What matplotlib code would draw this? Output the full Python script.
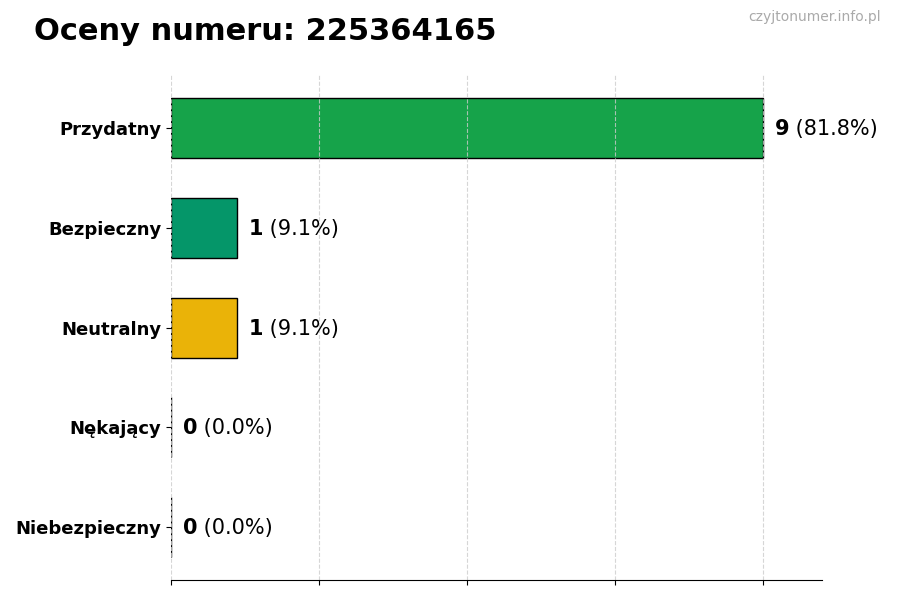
import numpy as np
import matplotlib.pyplot as plt

categories = ['Przydatny', 'Bezpieczny', 'Neutralny', 'Nękający', 'Niebezpieczny']
counts = [9, 1, 1, 0, 0]
colors = ['#16a34a', '#059669', '#eab308', '#f97316', '#dc2626']
phone = '225364165'

total = sum(counts)
max_val = max(counts)

fig = plt.figure(figsize=(9, 6), dpi=100)
ax = fig.add_axes([0.19, 0.033, 0.723, 0.842])

y = np.arange(len(categories))
ax.barh(y, counts, height=0.6, color=colors, edgecolor='black', linewidth=1)
ax.invert_yaxis()

ax.set_yticks(y)
ax.set_yticklabels(categories, fontsize=13, fontweight='bold')
ax.set_xticks(np.linspace(0, max_val, 5))
ax.set_xticklabels([])
ax.set_xlim(0, max_val * 1.1)

ax.grid(True, axis='x', linestyle='--', color='#cccccc', alpha=0.8)
for side in ['top', 'right', 'left']:
    ax.spines[side].set_visible(False)

# bold count followed by the percentage in normal weight
for i, c in enumerate(counts):
    pct = c / total * 100
    t = ax.text(c + max_val * 0.02, i + 0.01, str(c), fontsize=15, fontweight='bold',
                va='center', ha='left')
    ax.annotate(f' ({pct:.1f}%)', xy=(1, 0), xycoords=t, fontsize=15,
                va='bottom', ha='left')

fig.text(0.038, 0.948, f'Oceny numeru: {phone}', fontsize=22, fontweight='bold',
         ha='left', va='center')
fig.text(0.979, 0.971, 'czyjtonumer.info.pl', fontsize=10, color='#aaaaaa',
         ha='right', va='center')

fig.savefig('out.png', dpi=100)
